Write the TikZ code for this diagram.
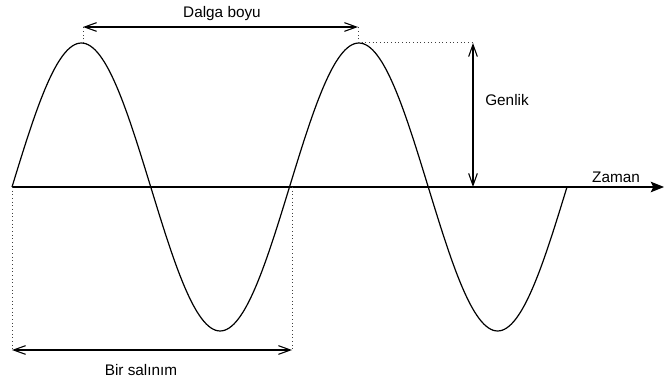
\documentclass[tikz,border=0pt]{standalone}
\usepackage{fontspec}
\setmainfont{Liberation Sans}
\usetikzlibrary{arrows.meta}

\begin{document}
\begin{tikzpicture}[x=0.75pt,y=-0.75pt,>={Straight Barb[length=9pt,width=6.5pt]},
  lbl/.style={font=\fontsize{11.5}{13}\selectfont,inner sep=1pt},
  guide/.style={dotted,black!75,line width=0.75pt},
  dim/.style={<->,line width=0.8pt},
  wave/.style={line width=0.9pt}]
\useasboundingbox (0,0) rectangle (664,381);
\coordinate (o) at (12,187);
\coordinate (ax) at (664,187);
\coordinate (p1) at (83,43);
\coordinate (p2) at (358,43);
\coordinate (w1) at (83,27);
\coordinate (w2) at (358,27);
\coordinate (g1) at (473,43);
\coordinate (g2) at (473,187);
\coordinate (c2) at (292,187);
\coordinate (s0) at (12,350);
\coordinate (s1) at (292,350);
\draw[wave] plot[smooth,domain=0:720,samples=121] ({12+\x/720*555},{187-144*sin(\x)});
\draw[line width=0.9pt,-{Stealth[length=10pt,width=8pt,inset=2pt]}] (o)--(ax);
\draw[guide] (p1)--(w1);
\draw[guide] (p2)--(w2);
\draw[guide] (p2)--(g1);
\draw[guide] (o)--(s0);
\draw[guide] (c2)--(s1);
\draw[dim] (w1)--(w2);
\draw[dim] (g1)--(g2);
\draw[dim] (s0)--(s1);
\node[lbl] (dalga) at (222,14) {Dalga boyu};
\node[lbl] (genlik) at (507,100) {Genlik};
\node[lbl] (zaman) at (616,177) {Zaman};
\node[lbl] (salinim) at (141,370) {Bir salınım};
\end{tikzpicture}
\end{document}
